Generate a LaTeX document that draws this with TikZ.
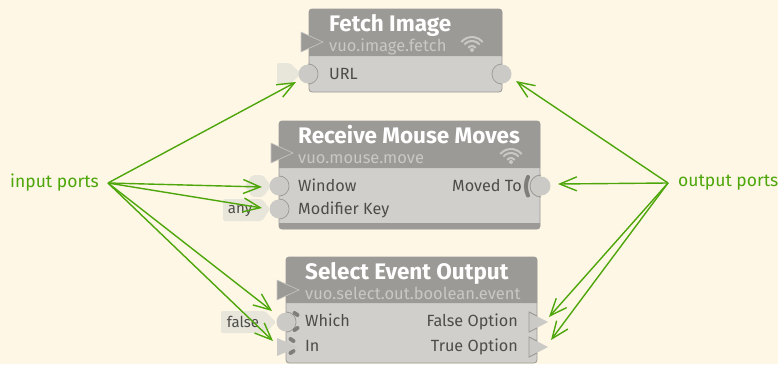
\documentclass[tikz,border=0pt]{standalone}
\usepackage{fontspec}
\setmainfont{Fira Sans}
\usetikzlibrary{arrows.meta}
\definecolor{paper}{HTML}{FEF7E5}
\definecolor{headgray}{HTML}{9B9A96}
\definecolor{bodygray}{HTML}{D0CFCB}
\definecolor{portgray}{HTML}{CBCAC6}
\definecolor{wallgray}{HTML}{7F7E7B}
\definecolor{subgray}{HTML}{C9C8C4}
\definecolor{labelgray}{HTML}{4C4C4A}
\definecolor{flaggray}{HTML}{E8E6DA}
\definecolor{notegreen}{HTML}{4DA60A}
\tikzset{
	body/.style = {draw=headgray, fill=bodygray, line width=0.8pt, rounded corners=3pt},
	head/.style = {fill=headgray},
	refresh/.style = {fill=headgray, draw=subgray, line width=0.6pt},
	title/.style = {anchor=base west, inner sep=0pt, text=white, font=\fontsize{22.5}{23}\selectfont\bfseries},
	classname/.style = {anchor=base west, inner sep=0pt, text=subgray, font=\fontsize{16.5}{17}\selectfont},
	portname/.style = {inner sep=0pt, text=labelgray, font=\fontsize{16.2}{17}\selectfont},
	port/.style = {circle, fill=portgray, minimum size=19pt, inner sep=0pt},
	flag/.style = {fill=flaggray, rounded corners=2pt},
	flagtext/.style = {inner sep=0pt, text=labelgray, font=\fontsize{15}{15}\selectfont},
	rim/.style = {draw=headgray, line width=0.9pt},
	wall/.style = {draw=wallgray, line width=4pt, line cap=round},
	note/.style = {text=notegreen, font=\fontsize{17.5}{18}\selectfont, inner ysep=0pt},
	pointer/.style = {draw=notegreen, line width=1.4pt, -{Straight Barb[length=17pt,width=14pt,line width=1.4pt]}},
	pics/wifi/.style = {code = {
		\foreach \r in {5,10,14} {
			\draw[subgray, line width=2pt] (-\r*0.766,-\r*0.643) arc[start angle=220, end angle=320, radius=\r];
		}
		\fill[subgray] (0,-1) circle (2);
	}},
}

\begin{document}
\begin{tikzpicture}[x=1pt, y=-1pt]
	\fill[paper] (0,0) rectangle (778,364);
	\useasboundingbox (0,0) rectangle (778,364);

	% constant flags
	\fill[flag] (277,63) -- (290,63) -- (301,74) -- (290,84) -- (277,84) -- cycle;
	\fill[flag] (252,175) -- (263,175) -- (271,186) -- (263,197) -- (252,197) -- (245,186) -- cycle;
	\fill[flag] (223,199) -- (262,199) -- (270,209) -- (262,221) -- (223,221) -- cycle;
	\fill[flag] (221,311) -- (265,311) -- (276,322) -- (265,333) -- (221,333) -- cycle;

	% fetch image
	\draw[body] (309,9) rectangle (502,92);
	\fill[head] (309,56) [rounded corners=3pt] -- (309,9) -- (502,9) [sharp corners] -- (502,56) -- cycle;
	\draw[refresh] (301,32) -- (323,42) -- (301,52) -- cycle;
	\node[title] (fetchtitle) at (329,31) {Fetch Image};
	\node[classname] (fetchclass) at (329,51) {vuo.image.fetch};
	\pic at (472,51) {wifi};
	\draw[rim] (308,64) arc[start angle=-90, end angle=90, radius=10];
	\draw[rim] (502,84) arc[start angle=90, end angle=270, radius=10];
	\node[port] (url) at (308,74) {};
	\node[port] (fetchdone) at (502,74) {};
	\node[portname, anchor=base west] (urlname) at (329,79) {URL};

	% receive mouse moves
	\draw[body] (279,121) rectangle (540,229);
	\fill[head] (279,168) [rounded corners=3pt] -- (279,121) -- (540,121) [sharp corners] -- (540,168) -- cycle;
	\fill[head] (279,223) -- (540,223) [rounded corners=3pt] -- (540,229) -- (279,229) [sharp corners] -- cycle;
	\draw[refresh] (271,143) -- (293,153) -- (271,163) -- cycle;
	\node[title] (movetitle) at (298,143) {Receive Mouse Moves};
	\node[classname] (moveclass) at (298,163) {vuo.mouse.move};
	\pic at (511,163) {wifi};
	\draw[rim] (279,176) arc[start angle=-90, end angle=90, radius=10];
	\draw[rim] (279,199) arc[start angle=-90, end angle=90, radius=10];
	\draw[rim] (541,197) arc[start angle=90, end angle=270, radius=11];
	\draw[wall] (528,177) arc[start angle=205, end angle=155, radius=22];
	\node[port] (window) at (279,186) {};
	\node[port] (modifier) at (279,209) {};
	\node[port] (moved) at (541,186) {};
	\node[portname, anchor=base west] (windowname) at (298,191) {Window};
	\node[portname, anchor=base west] (modifiername) at (298,214) {Modifier Key};
	\node[portname, anchor=base east] (movedname) at (522,191) {Moved To};
	\node[flagtext] (anyvalue) at (240,211) {any};

	% select event output
	\draw[body] (286,257) rectangle (537,363);
	\fill[head] (286,303) [rounded corners=3pt] -- (286,257) -- (537,257) [sharp corners] -- (537,303) -- cycle;
	\draw[refresh] (277,280) -- (299,290) -- (277,300) -- cycle;
	\node[title] (selecttitle) at (305,279) {Select Event Output};
	\node[classname] (selectclass) at (305,299) {vuo.select.out.boolean.event};
	\draw[rim] (286,312) arc[start angle=-90, end angle=90, radius=10];
	\foreach \x/\y/\s in {296/314/1,296/329/-1,292/340/1,292/352/-1} {
		\draw[wall] (\x-1.5,\y-\s) -- (\x+1.5,\y+\s);
	}
	\node[port] (which) at (286,322) {};
	\fill[portgray] (277,338) -- (298,347) -- (277,356) -- cycle;
	\coordinate (in) at (277,347);
	\foreach \y in {322,347} {
		\fill[portgray] (529,\y-10) -- (548,\y) -- (529,\y+10) -- cycle;
		\draw[rim] (537,\y-6) -- (529,\y-10) -- (529,\y+10) -- (537,\y+6);
	}
	\node[portname, anchor=base west] (whichname) at (305,326) {Which};
	\node[portname, anchor=base west] (inname) at (305,351) {In};
	\node[portname, anchor=base east] (falsename) at (518,326) {False Option};
	\node[portname, anchor=base east] (truename) at (518,351) {True Option};
	\node[flagtext] (falsevalue) at (243,322) {false};

	% notes
	\node[note, anchor=east, inner xsep=9pt] (inputs) at (108,183) {input ports};
	\node[note, anchor=west, inner xsep=10pt] (outputs) at (668,183) {output ports};
	\foreach \name/\x/\y in {urltip/296/82, windowtip/262/187, modifiertip/262/208, whichtip/272/311, intip/273/341} {
		\coordinate (\name) at (\x,\y);
		\draw[pointer] (inputs.east) -- (\name);
	}
	\foreach \name/\x/\y in {donetip/516/81, movedtip/558/184, falsetip/549/317, truetip/551/340} {
		\coordinate (\name) at (\x,\y);
		\draw[pointer] (outputs.west) -- (\name);
	}
\end{tikzpicture}
\end{document}
